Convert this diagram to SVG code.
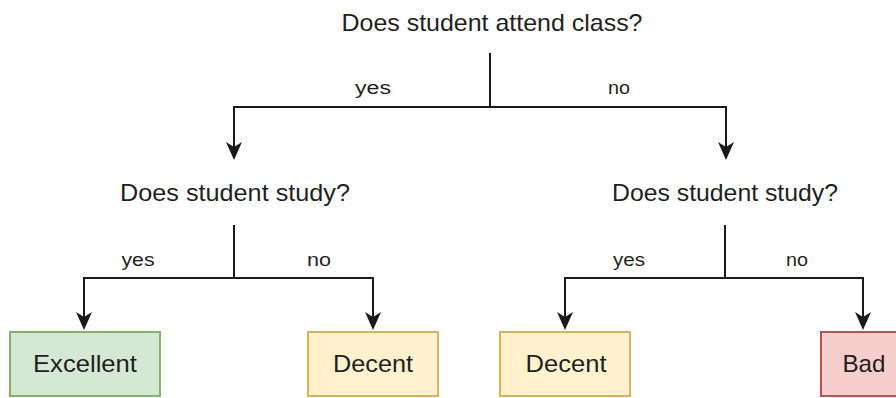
<svg xmlns="http://www.w3.org/2000/svg" width="896" height="398" viewBox="0 0 896 398">
  <style>
    .q { font-family: "Liberation Sans", Arial, sans-serif; font-size: 24px; fill: #1f1f1f; text-anchor: middle; }
    .lbl { font-family: "Liberation Sans", Arial, sans-serif; font-size: 18px; fill: #1f1f1f; text-anchor: middle; }
    .edge { fill: none; stroke: #1a1a1a; stroke-width: 2; marker-end: url(#arrow); }
    .green { fill: #d5e8d4; stroke: #82b366; stroke-width: 2; }
    .yellow { fill: #fff2cc; stroke: #d6b656; stroke-width: 2; }
    .red { fill: #f8cecc; stroke: #b85450; stroke-width: 2; }
  </style>
  <defs>
    <marker id="arrow" viewBox="0 -8 18 16" refX="14" refY="0" markerWidth="18" markerHeight="16" markerUnits="userSpaceOnUse" orient="auto">
      <path d="M0,-8 L18,0 L0,8 L5,0 Z" fill="#1a1a1a"/>
    </marker>
  </defs>
  <rect width="896" height="398" fill="#ffffff"/>

  <g id="connectors">
    <path class="edge" d="M490,53 V107 H234 V156"/>
    <path class="edge" d="M490,53 V107 H726 V156"/>
    <path class="edge" d="M234,225 V278 H84 V326"/>
    <path class="edge" d="M234,225 V278 H373 V326"/>
    <path class="edge" d="M725,225 V278 H565 V326"/>
    <path class="edge" d="M725,225 V278 H863 V326"/>
    <text class="lbl" x="373" y="94" textLength="36" lengthAdjust="spacingAndGlyphs">yes</text>
    <text class="lbl" x="619" y="94" textLength="22" lengthAdjust="spacingAndGlyphs">no</text>
    <text class="lbl" x="138" y="266" textLength="33" lengthAdjust="spacingAndGlyphs">yes</text>
    <text class="lbl" x="319" y="266" textLength="24" lengthAdjust="spacingAndGlyphs">no</text>
    <text class="lbl" x="629" y="266" textLength="32" lengthAdjust="spacingAndGlyphs">yes</text>
    <text class="lbl" x="797" y="266" textLength="22" lengthAdjust="spacingAndGlyphs">no</text>
  </g>

  <g id="q-attend">
    <text class="q" x="492" y="31" textLength="301" lengthAdjust="spacingAndGlyphs">Does student attend class?</text>
  </g>
  <g id="q-study-left">
    <text class="q" x="235" y="201" textLength="230" lengthAdjust="spacingAndGlyphs">Does student study?</text>
  </g>
  <g id="q-study-right">
    <text class="q" x="725" y="201" textLength="226" lengthAdjust="spacingAndGlyphs">Does student study?</text>
  </g>

  <g id="excellent">
    <rect class="green" x="10" y="332" width="150" height="64"/>
    <text class="q" x="85" y="372" textLength="104" lengthAdjust="spacingAndGlyphs">Excellent</text>
  </g>
  <g id="decent-left">
    <rect class="yellow" x="308" y="332" width="130" height="64"/>
    <text class="q" x="373" y="372" textLength="80" lengthAdjust="spacingAndGlyphs">Decent</text>
  </g>
  <g id="decent-right">
    <rect class="yellow" x="500" y="332" width="130" height="64"/>
    <text class="q" x="566" y="372" textLength="81" lengthAdjust="spacingAndGlyphs">Decent</text>
  </g>
  <g id="bad">
    <rect class="red" x="821" y="332" width="86" height="64"/>
    <text class="q" x="864" y="372" textLength="43" lengthAdjust="spacingAndGlyphs">Bad</text>
  </g>
</svg>
